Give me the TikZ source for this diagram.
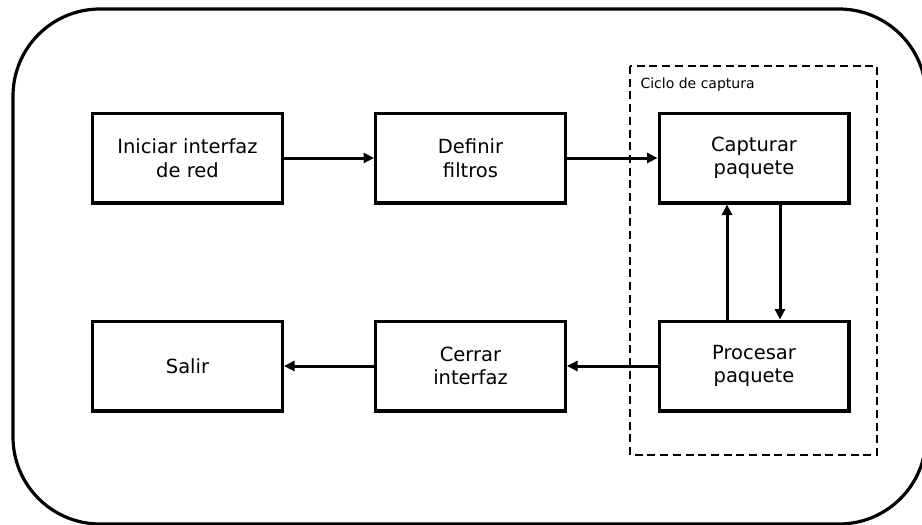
\documentclass[tikz,border=0pt]{standalone}
\usepackage{fontspec}
\setmainfont{DejaVu Sans}
\usetikzlibrary{arrows.meta}
\begin{document}
\begin{tikzpicture}[x=1pt,y=-1pt,
  stepbox/.style={draw, line width=3.4pt, minimum width=189.6pt, minimum height=89.6pt,
    inner sep=0pt, align=center, font=\fontsize{19.5}{23.5}\selectfont},
  flow/.style={line width=3pt, -{Triangle[length=10.5pt,width=10pt]}},
  loopframe/.style={draw, line width=1.8pt, dash pattern=on 8pt off 4.7pt},
  frame/.style={draw, line width=3.2pt, rounded corners=87pt}]
  \useasboundingbox (0,0) rectangle (922,525);
  % outer frame
  \path[frame] (13,9) rectangle (926,524);
  % capture loop frame
  \path[loopframe] (630,66) rectangle (877,455);
  \node[anchor=base west, font=\fontsize{14}{16}\selectfont] (looplabel) at (637,88) {Ciclo de captura};
  % steps
  \node[stepbox] (init) at (187.5,158) {Iniciar interfaz\\de red};
  \node[stepbox] (filt) at (470.5,158) {Definir\\filtros};
  \node[stepbox] (capt) at (754,158) {Capturar\\paquete};
  \node[stepbox] (proc) at (754,366) {Procesar\\paquete};
  \node[stepbox] (clos) at (470.5,366) {Cerrar\\interfaz};
  \node[stepbox] (quit) at (187.5,366) {Salir};
  % connectors
  \draw[flow] (init) -- (filt);
  \draw[flow] (filt) -- (capt);
  \draw[flow] ([xshift=26pt]capt.south) -- ([xshift=26pt]proc.north);
  \draw[flow] ([xshift=-27pt]proc.north) -- ([xshift=-27pt]capt.south);
  \draw[flow] (proc) -- (clos);
  \draw[flow] (clos) -- (quit);
\end{tikzpicture}
\end{document}
